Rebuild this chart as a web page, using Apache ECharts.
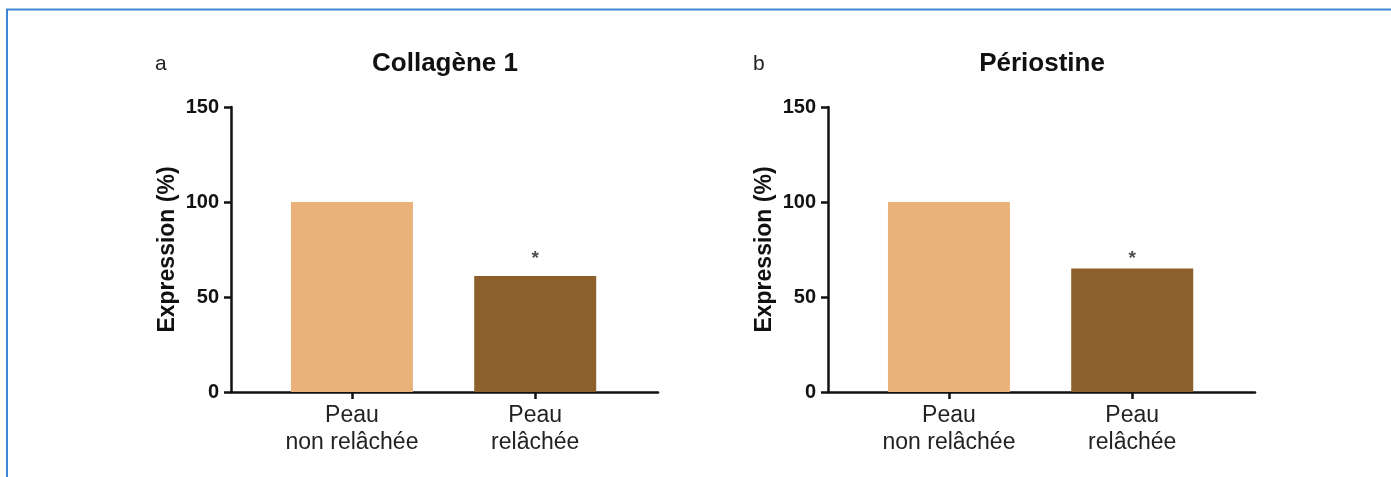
<!DOCTYPE html>
<html>
<head>
<meta charset="utf-8">
<title>Expression – Collagène 1 et Périostine</title>
<script src="https://cdn.jsdelivr.net/npm/echarts@6/dist/echarts.min.js"></script>
<style>
  html, body { margin: 0; padding: 0; background: #ffffff; }
  #chart { width: 1391px; height: 477px; }
</style>
</head>
<body>
<div id="chart"></div>
<script>
// Categories shared by both panels
const categories = ['Peau\nnon relâchée', 'Peau\nrelâchée'];

// Expression (%) per panel
const collagenValues = [100, 61];
const periostinValues = [100, 65];

// Significance marks and the level (in %) at which they are printed
const significance = ['', '*'];
const significanceLevel = [null, 70];

// Y-axis ticks
const yTicks = [0, 50, 100, 150];

// Panel titles and letters
const panelTitles = ['Collagène 1', 'Périostine'];
const panelLetters = ['a', 'b'];

const barColors = ['#E9B27B', '#8D602B'];
const FONT = '"Liberation Sans", Arial, Helvetica, sans-serif';

// Bars sit on a numeric x scale at positions 1, 2, … so the axis can run
// past the outer bars like a classic lab-plot frame.
const positions = categories.map((_, i) => i + 1);

function barData(values) {
  return values.map((v, i) => ({
    value: [positions[i], v],
    itemStyle: { color: barColors[i] }
  }));
}

function markData() {
  return significance
    .map((s, i) => ({ s, i }))
    .filter(d => d.s !== '')
    .map(d => ({ value: [positions[d.i], significanceLevel[d.i]], label: { formatter: d.s } }));
}

const grids = [
  { left: 231, right: 733, top: 107, bottom: 85 },
  { left: 828, right: 136, top: 107, bottom: 85 }
];

function xAxisFor(gridIndex) {
  return {
    type: 'value',
    gridIndex,
    min: 0.34,
    max: 2.67,
    splitLine: { show: false },
    axisLine: { show: true, onZero: false, lineStyle: { color: '#111', width: 2.5 } },
    axisTick: { show: true, customValues: positions, length: 7, lineStyle: { color: '#111', width: 2.5 } },
    axisLabel: {
      customValues: positions,
      formatter: (v) => categories[Math.round(v) - 1] || '',
      color: '#222',
      fontFamily: FONT,
      fontSize: 23,
      lineHeight: 27,
      margin: 10
    }
  };
}

function yAxisFor(gridIndex) {
  return {
    type: 'value',
    gridIndex,
    min: yTicks[0],
    max: yTicks[yTicks.length - 1],
    interval: yTicks[1] - yTicks[0],
    name: 'Expression (%)',
    nameLocation: 'middle',
    nameGap: 52,
    nameTextStyle: { color: '#111', fontFamily: FONT, fontWeight: 'bold', fontSize: 23 },
    splitLine: { show: false },
    axisLine: { show: true, lineStyle: { color: '#111', width: 2.5 } },
    axisTick: { show: true, length: 7, lineStyle: { color: '#111', width: 2.5 } },
    axisLabel: { color: '#111', fontFamily: FONT, fontWeight: 'bold', fontSize: 20, margin: 12 }
  };
}

function barSeries(values, idx) {
  return {
    type: 'bar',
    xAxisIndex: idx,
    yAxisIndex: idx,
    barWidth: 122,
    data: barData(values),
    silent: true
  };
}

function markSeries(idx) {
  return {
    type: 'scatter',
    xAxisIndex: idx,
    yAxisIndex: idx,
    symbolSize: 0,
    data: markData(),
    label: {
      show: true,
      position: 'inside',
      color: '#222',
      fontFamily: FONT,
      fontWeight: 'bold',
      fontSize: 19
    },
    silent: true
  };
}

const titleCenters = [440, 1037];
const letterLefts = [150, 748];

const option = {
  animation: false,
  backgroundColor: '#ffffff',
  title: [
    ...panelTitles.map((t, i) => ({
      text: t,
      left: titleCenters[i],
      top: 46,
      textAlign: 'center',
      textStyle: { color: '#111', fontFamily: FONT, fontWeight: 'bold', fontSize: 26 }
    })),
    ...panelLetters.map((t, i) => ({
      text: t,
      left: letterLefts[i],
      top: 49,
      textStyle: { color: '#222', fontFamily: FONT, fontWeight: 'normal', fontSize: 21 }
    }))
  ],
  grid: grids,
  xAxis: [xAxisFor(0), xAxisFor(1)],
  yAxis: [yAxisFor(0), yAxisFor(1)],
  series: [
    barSeries(collagenValues, 0), barSeries(periostinValues, 1),
    markSeries(0), markSeries(1)
  ],
  graphic: [
    // blue frame edges
    { type: 'line', shape: { x1: 6, y1: 9.5, x2: 1391, y2: 9.5 }, style: { stroke: '#3f86d6', lineWidth: 2 } },
    { type: 'line', shape: { x1: 7, y1: 9, x2: 7, y2: 477 }, style: { stroke: '#3f86d6', lineWidth: 2 } }
  ]
};

const chart = echarts.init(document.getElementById('chart'), null, { renderer: 'canvas' });
chart.setOption(option);
</script>
</body>
</html>
